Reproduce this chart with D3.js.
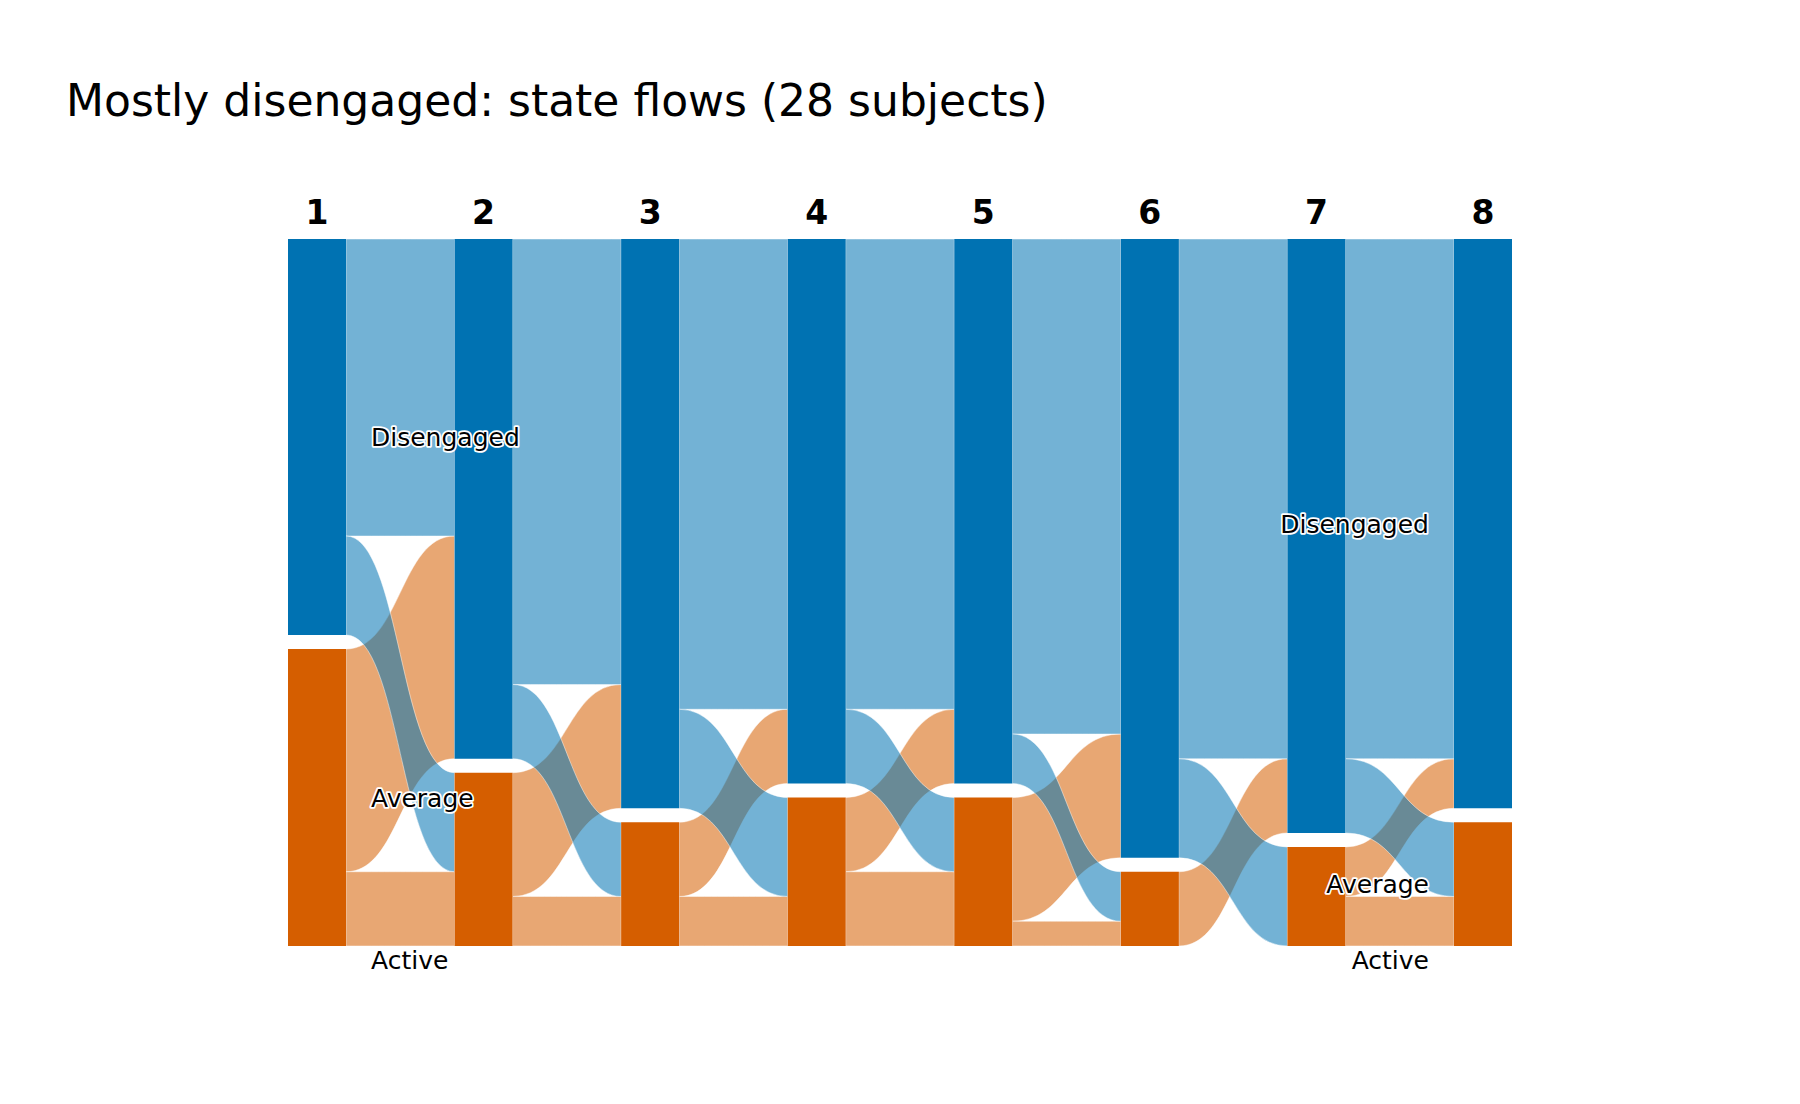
<!DOCTYPE html>
<html>
<head>
<meta charset="utf-8">
<script src="https://cdn.jsdelivr.net/npm/d3@7"></script>
<style>
  body { margin: 0; background: #fff; }
  text { font-family: "DejaVu Sans", sans-serif; }
</style>
</head>
<body>
<script>
var width = 1800;
var height = 1104;

// time steps and states
var steps = [1, 2, 3, 4, 5, 6, 7, 8];
var states = ["Disengaged", "Average", "Active"];
var colors = ["#0072B2", "#D55E00", "#009E73"];

// subjects per state at each step
var disengaged = [16, 21, 23, 22, 22, 25, 24, 23];
var average = [12, 7, 5, 6, 6, 3, 4, 5];
var active = [0, 0, 0, 0, 0, 0, 0, 0];

// transitions from step i to step i+1, counts to [Disengaged, Average, Active]
var fromDisengaged = [[12, 4, 0], [18, 3, 0], [19, 4, 0], [19, 3, 0], [20, 2, 0], [21, 4, 0], [21, 3, 0]];
var fromAverage = [[9, 3, 0], [5, 2, 0], [3, 2, 0], [3, 3, 0], [5, 1, 0], [3, 0, 0], [2, 2, 0]];
var fromActive = [[0, 0, 0], [0, 0, 0], [0, 0, 0], [0, 0, 0], [0, 0, 0], [0, 0, 0], [0, 0, 0]];

var total = 28;
var nodeWidth = 58;
var gap = 14;
var plotTop = 239;

var svg = d3.select("body").append("svg")
  .attr("width", width)
  .attr("height", height);

var x = d3.scaleLinear().domain([1, 8]).range([288, 1454]);
var h = d3.scaleLinear().domain([0, total]).range([0, 693]);

var stateCounts = [disengaged, average, active];
var transitions = [fromDisengaged, fromAverage, fromActive];

// node positions
var nodes = steps.map(function(s, i) {
  var y = plotTop;
  return states.map(function(st, k) {
    var n = {step: s, i: i, k: k, y0: y, y1: y + h(stateCounts[k][i])};
    y = n.y1 + gap;
    return n;
  });
});

// links with stacked offsets at both ends
var links = [];
d3.range(steps.length - 1).forEach(function(i) {
  var outOff = nodes[i].map(function(n) { return n.y0; });
  var inOff = nodes[i + 1].map(function(n) { return n.y0; });
  states.forEach(function(st, a) {
    states.forEach(function(st2, b) {
      var v = transitions[a][i][b];
      var l = {i: i, a: a, b: b, v: v, sy: outOff[a], ty: 0};
      outOff[a] += h(v);
      links.push(l);
    });
  });
  states.forEach(function(st2, b) {
    states.forEach(function(st, a) {
      var l = links.find(function(d) { return d.i === i && d.a === a && d.b === b; });
      l.ty = inOff[b];
      inOff[b] += h(l.v);
    });
  });
});

function linkPath(d) {
  var x0 = x(steps[d.i]) + nodeWidth;
  var x1 = x(steps[d.i + 1]);
  var xm = (x0 + x1) / 2;
  var w = h(d.v);
  var p = d3.path();
  p.moveTo(x0, d.sy);
  p.bezierCurveTo(xm, d.sy, xm, d.ty, x1, d.ty);
  p.lineTo(x1, d.ty + w);
  p.bezierCurveTo(xm, d.ty + w, xm, d.sy + w, x0, d.sy + w);
  p.closePath();
  return p.toString();
}

// sources drawn in reverse so disengaged flows sit on top
var drawn = links.filter(function(d) { return d.v > 0; })
  .sort(function(p, q) { return q.a - p.a; });

svg.append("g").selectAll("path")
  .data(drawn)
  .enter().append("path")
  .attr("d", linkPath)
  .style("fill", function(d) { return colors[d.a]; })
  .style("fill-opacity", 0.55)
  .style("stroke", "#fff")
  .style("stroke-width", 1)
  .style("stroke-opacity", 0.45);

svg.append("g").selectAll("rect")
  .data(d3.merge(nodes).filter(function(n) { return n.y1 > n.y0; }))
  .enter().append("rect")
  .attr("x", function(n) { return x(n.step); })
  .attr("y", function(n) { return n.y0; })
  .attr("width", nodeWidth)
  .attr("height", function(n) { return n.y1 - n.y0; })
  .style("fill", function(n) { return colors[n.k]; });

// step headers
svg.append("g").selectAll("text")
  .data(steps)
  .enter().append("text")
  .attr("x", function(s) { return x(s) + nodeWidth / 2; })
  .attr("y", 224)
  .attr("text-anchor", "middle")
  .style("font-size", "33px")
  .style("font-weight", "bold")
  .text(function(s) { return s; });

// state labels at first and last step
var first = nodes[0];
var last = nodes[steps.length - 1];
var labels = first.map(function(n) {
  return {x: x(steps[0]) + nodeWidth + 25, y: (n.y0 + n.y1) / 2, anchor: "start", text: states[n.k]};
}).concat(last.map(function(n) {
  return {x: x(steps[steps.length - 1]) - 25, y: (n.y0 + n.y1) / 2, anchor: "end", text: states[n.k]};
}));

svg.append("g").selectAll("text")
  .data(labels)
  .enter().append("text")
  .attr("x", function(d) { return d.x; })
  .attr("y", function(d) { return d.y + 9; })
  .attr("text-anchor", function(d) { return d.anchor; })
  .style("font-size", "25px")
  .style("fill", "#000")
  .style("stroke", "#fff")
  .style("stroke-width", 3.5)
  .style("stroke-linejoin", "round")
  .style("paint-order", "stroke")
  .text(function(d) { return d.text; });

svg.append("text")
  .attr("x", 66)
  .attr("y", 116)
  .style("font-size", "44px")
  .text("Mostly disengaged: state flows (28 subjects)");
</script>
</body>
</html>
